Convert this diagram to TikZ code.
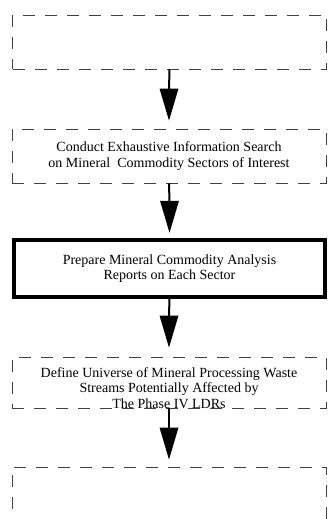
\documentclass[tikz,border=0pt]{standalone}
\usepackage{fontspec}
\setmainfont{Liberation Serif}
\begin{document}
\begin{tikzpicture}[x=1pt,y=-1pt,
  stepbox/.style={draw=black!75, line width=0.9pt, dash pattern=on 12pt off 10pt,
    minimum width=314pt, inner sep=0pt, align=center},
  keybox/.style={draw=black, line width=4.5pt, minimum width=311pt,
    minimum height=57pt, inner sep=0pt, align=center},
  boxfont/.style={font=\fontsize{14}{15.5}\selectfont},
  steptext/.style={inner sep=0pt, align=center, boxfont},
  flow/.style={line width=2pt},
  flowhead/.style={fill=black}]
\useasboundingbox (0,0) rectangle (328,519);
\begin{scope}
\clip (0,0) rectangle (328,519);
% boxes
\node[stepbox, minimum height=54pt] (b1) at (169.5,42) {};
\node[stepbox, minimum height=54pt, boxfont] (b2) at (169,156)
  {Conduct Exhaustive Information Search\\on Mineral\ \ Commodity Sectors of Interest};
\node[keybox, boxfont] (b3) at (169.5,268.5)
  {Prepare Mineral Commodity Analysis\\Reports on Each Sector};
\node[stepbox, minimum height=51pt] (b4) at (169,382.5) {};
\node[steptext] (t4) at (169,388)
  {Define Universe of Mineral Processing Waste\\Streams Potentially Affected by\\The Phase IV LDRs};
\node[stepbox, minimum height=90pt] (b5) at (169,512) {};
% connectors: shaft plus a wide filled head stopping just above the next box
\coordinate (h2) at ([yshift=8pt]b2.north);
\coordinate (h3) at ([yshift=5pt]b3.north);
\coordinate (h4) at ([yshift=9pt]b4.north);
\coordinate (h5) at ([yshift=7pt]b5.north);
\draw[flow] (b1.south) -- ([yshift=31pt]h2);
\fill[flowhead] (h2) -- ++(-9.5,-32) -- ++(19,0) -- cycle;
\draw[flow] (b2.south) -- ([yshift=31pt]h3);
\fill[flowhead] (h3) -- ++(-9.5,-32) -- ++(19,0) -- cycle;
\draw[flow] ([yshift=2pt]b3.south) -- ([yshift=31pt]h4);
\fill[flowhead] (h4) -- ++(-9.5,-32) -- ++(19,0) -- cycle;
\draw[flow] (b4.south) -- ([yshift=31pt]h5);
\fill[flowhead] (h5) -- ++(-9.5,-32) -- ++(19,0) -- cycle;
\end{scope}
\end{tikzpicture}
\end{document}
